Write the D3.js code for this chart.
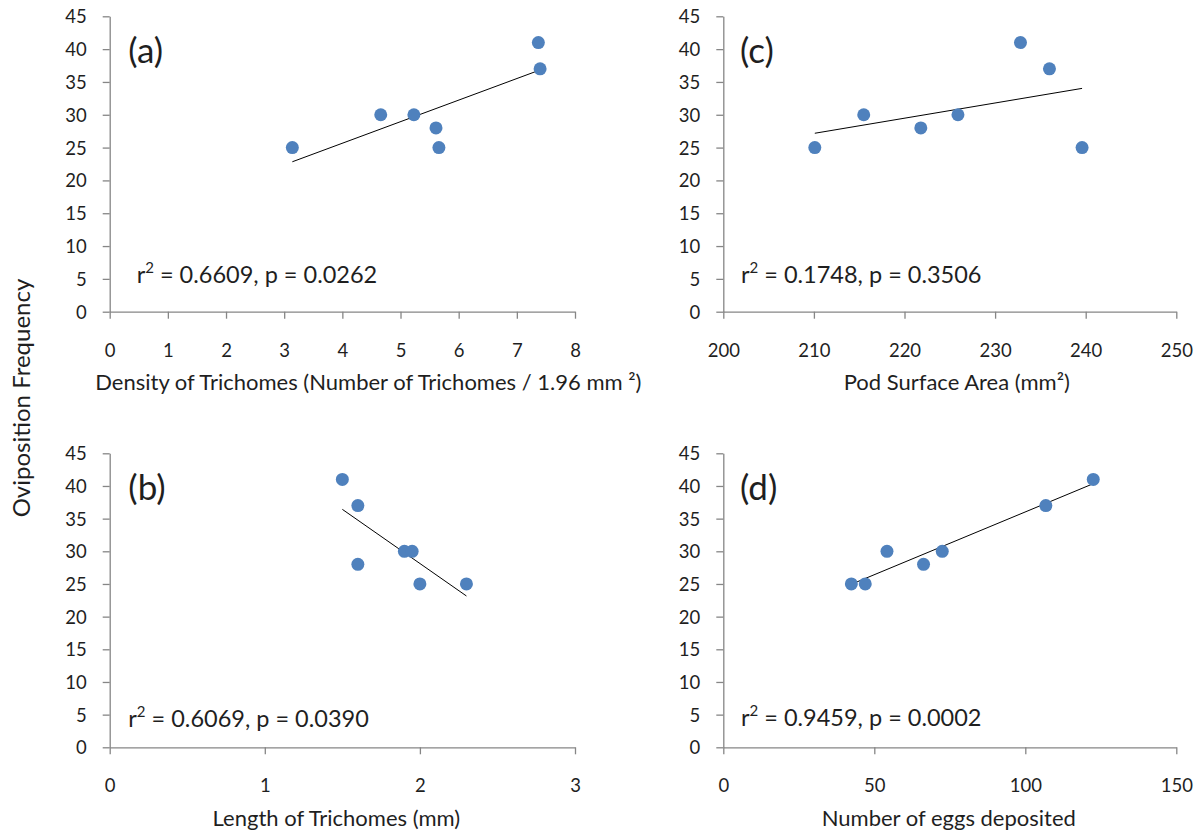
<!DOCTYPE html>
<html>
<head>
<meta charset="utf-8">
<script src="https://cdn.jsdelivr.net/npm/d3@7"></script>
<style>
  html, body { margin: 0; padding: 0; background: #fff; }
  svg { display: block; font-family: Lato, "Open Sans", sans-serif; }
</style>
</head>
<body>
<svg id="chart" width="1201" height="832"></svg>
<script>
// ---- Data ----
const oviTicks = [0, 5, 10, 15, 20, 25, 30, 35, 40, 45];

const densityX = [3.14, 4.66, 5.23, 5.61, 5.66, 7.37, 7.40];
const densityY = [25, 30, 30, 28, 25, 41, 37];
const densityTicks = [0, 1, 2, 3, 4, 5, 6, 7, 8];

const areaX = [210.1, 215.5, 221.8, 225.9, 232.8, 236.0, 239.6];
const areaY = [25, 30, 28, 30, 41, 37, 25];
const areaTicks = [200, 210, 220, 230, 240, 250];

const lengthX = [1.50, 1.60, 1.60, 1.90, 1.95, 2.00, 2.30];
const lengthY = [41, 37, 28, 30, 30, 25, 25];
const lengthTicks = [0, 1, 2, 3];

const eggsX = [42.4, 47.0, 54.2, 66.3, 72.5, 106.8, 122.5];
const eggsY = [25, 25, 30, 28, 30, 37, 41];
const eggsTicks = [0, 50, 100, 150];

const panelLetters = ["(a)", "(c)", "(b)", "(d)"];
const statR2 = ["0.6609", "0.1748", "0.6069", "0.9459"];
const statP = ["0.0262", "0.3506", "0.0390", "0.0002"];
const xTitles = [
  "Density of Trichomes (Number of Trichomes / 1.96 mm \u00B2)",
  "Pod Surface Area (mm\u00B2)",
  "Length of Trichomes (mm)",
  "Number of eggs deposited"
];
const yTitle = "Oviposition Frequency";

// ---- Layout ----
const svg = d3.select("#chart");
svg.append("rect").attr("width", 1201).attr("height", 832).attr("fill", "#fff");

const AXIS = "#868686", TEXT = "#1f1f1f", DOT = "#4F81BD";

const panels = [
  { xs: densityX, ys: densityY, ticks: densityTicks, left: 109.7, right: 575,    top: 16.3,  bottom: 311.7, letterDx: 18.6, statDx: 27,   statDy: 29,   titleDx: 26 },
  { xs: areaX,    ys: areaY,    ticks: areaTicks,    left: 723.3, right: 1176.3, top: 16.3,  bottom: 311.7, letterDx: 16.7, statDx: 17.7, statDy: 29,   titleDx: 7 },
  { xs: lengthX,  ys: lengthY,  ticks: lengthTicks,  left: 109.7, right: 575,    top: 453.3, bottom: 747.3, letterDx: 18.6, statDx: 18.6, statDy: 20.7, titleDx: -6 },
  { xs: eggsX,    ys: eggsY,    ticks: eggsTicks,    left: 723.3, right: 1176.3, top: 453.3, bottom: 747.3, letterDx: 16.7, statDx: 17.7, statDy: 21.3, titleDx: -1 }
];

function fit(xs, ys) {
  const mx = d3.mean(xs), my = d3.mean(ys);
  let sxy = 0, sxx = 0;
  xs.forEach((x, i) => { sxy += (x - mx) * (ys[i] - my); sxx += (x - mx) * (x - mx); });
  const b = sxy / sxx;
  return x => my + b * (x - mx);
}

panels.forEach((p, i) => {
  const g = svg.append("g");
  const x = d3.scaleLinear().domain(d3.extent(p.ticks)).range([p.left, p.right]);
  const y = d3.scaleLinear().domain(d3.extent(oviTicks)).range([p.bottom, p.top]);

  // y axis
  const ya = g.append("g").attr("transform", `translate(${p.left},0)`)
    .call(d3.axisLeft(y).tickValues(oviTicks).tickSize(7).tickSizeOuter(0).tickPadding(16));
  // x axis
  const xa = g.append("g").attr("transform", `translate(0,${p.bottom})`)
    .call(d3.axisBottom(x).tickValues(p.ticks).tickSize(7).tickSizeOuter(0).tickFormat(d3.format("d")));

  [ya, xa].forEach(a => {
    a.select(".domain").attr("stroke", AXIS).attr("stroke-width", 1.3);
    a.selectAll(".tick line").attr("stroke", AXIS).attr("stroke-width", 1.3);
    a.selectAll(".tick text").attr("fill", TEXT).style("font-size", "18.5px")
      .style("font-family", "Lato, 'Open Sans', sans-serif");
  });
  ya.selectAll(".tick text").attr("dy", "0.35em");
  xa.selectAll(".tick text").attr("y", 45).attr("dy", 0);

  // trend line
  const f = fit(p.xs, p.ys);
  const [x0, x1] = d3.extent(p.xs);
  g.append("line")
    .attr("x1", x(x0)).attr("y1", y(f(x0)))
    .attr("x2", x(x1)).attr("y2", y(f(x1)))
    .attr("stroke", "#000").attr("stroke-width", 1);

  // points
  g.selectAll("circle.pt").data(p.xs.map((v, k) => [v, p.ys[k]])).join("circle")
    .attr("class", "pt")
    .attr("cx", d => x(d[0])).attr("cy", d => y(d[1]))
    .attr("r", 6.5).attr("fill", DOT);

  // panel letter
  g.append("text").attr("x", p.left + p.letterDx).attr("y", p.top + 46.7)
    .attr("fill", TEXT).style("font-size", "35px").text(panelLetters[i]);

  // statistics
  const st = g.append("text").attr("x", p.left + p.statDx).attr("y", p.bottom - p.statDy)
    .attr("fill", TEXT).style("font-size", "23.5px");
  st.append("tspan").text("r");
  st.append("tspan").attr("dy", -10).style("font-size", "15px").text("2");
  st.append("tspan").attr("dy", 10).text(` = ${statR2[i]}, p = ${statP[i]}`);

  // x title
  g.append("text").attr("x", (p.left + p.right) / 2 + p.titleDx).attr("y", p.bottom + 78.5)
    .attr("text-anchor", "middle").attr("fill", TEXT).style("font-size", "22px").text(xTitles[i]);
});

// shared y title
svg.append("text").attr("transform", "translate(30,398) rotate(-90)")
  .attr("text-anchor", "middle").attr("fill", TEXT).style("font-size", "24px").text(yTitle);
</script>
</body>
</html>
